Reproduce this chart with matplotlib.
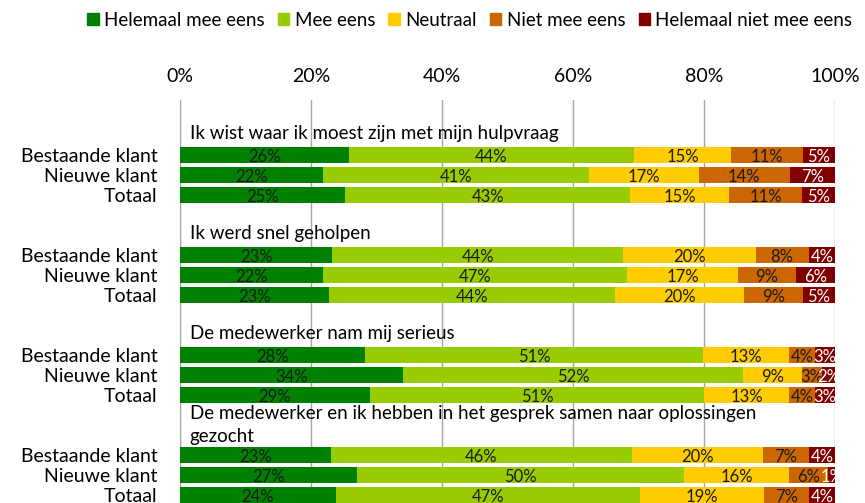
import numpy as np
import matplotlib.pyplot as plt

plt.rcParams['font.family'] = ['Lato', 'DejaVu Sans']

answers = ['Helemaal mee eens', 'Mee eens', 'Neutraal', 'Niet mee eens', 'Helemaal niet mee eens']
colors = ['#008000', '#99CC00', '#FFCC00', '#CC6600', '#800000']
label_colors = ['#1a1a1a', '#1a1a1a', '#1a1a1a', '#1a1a1a', 'white']

questions = ['Ik wist waar ik moest zijn met mijn hulpvraag',
             'Ik werd snel geholpen',
             'De medewerker nam mij serieus',
             'De medewerker en ik hebben in het gesprek samen naar oplossingen\ngezocht']
groups = ['Bestaande klant', 'Nieuwe klant', 'Totaal']

q1 = [[26, 44, 15, 11, 5], [22, 41, 17, 14, 7], [25, 43, 15, 11, 5]]
q2 = [[23, 44, 20, 8, 4], [22, 47, 17, 9, 6], [23, 44, 20, 9, 5]]
q3 = [[28, 51, 13, 4, 3], [34, 52, 9, 3, 2], [29, 51, 13, 4, 3]]
q4 = [[23, 46, 20, 7, 4], [27, 50, 16, 6, 1], [24, 47, 19, 7, 4]]

data = np.array([q1, q2, q3, q4], dtype=float)   # question x group x answer
step = 5

fig = plt.figure(figsize=(8.65, 5.03), dpi=100)
ax = fig.add_axes([180/865, 0.0, 655/865, 403/503])

ypos, ylabels = [], []
for qi in range(len(questions)):
    for gi in range(len(groups)):
        y = qi*step + gi
        row = data[qi, gi]
        widths = row / row.sum() * 100
        left = 0
        for ai in range(len(answers)):
            ax.barh(y, widths[ai], left=left, height=0.8, color=colors[ai], zorder=3)
            ax.text(left + widths[ai]/2, y + 0.1, f'{int(row[ai])}%', ha='center', va='center',
                    fontsize=12, color=label_colors[ai], zorder=4)
            left += widths[ai]
        ypos.append(y)
        ylabels.append(groups[gi])
    if '\n' in questions[qi]:
        ax.text(1.5, qi*step - 1.5, questions[qi], ha='left', va='center', fontsize=13.5,
                linespacing=1.4, zorder=4)
    else:
        ax.text(1.5, qi*step - 1.1, questions[qi], ha='left', va='center', fontsize=13.5, zorder=4)

ax.set_xlim(0, 100)
ax.set_ylim(17.4, -2.75)
ax.set_xticks(np.arange(0, 101, 20))
ax.set_xticklabels([f'{v}%' for v in range(0, 101, 20)])
ax.xaxis.tick_top()
ax.set_yticks(ypos)
ax.set_yticklabels(ylabels)
ax.tick_params(axis='x', length=0, pad=11, labelsize=14)
ax.tick_params(axis='y', length=0, pad=16, labelsize=14)
ax.grid(axis='x', color='#A6A6A6', linewidth=1, zorder=0)
for s in ['top', 'right', 'bottom']:
    ax.spines[s].set_visible(False)
ax.spines['left'].set_color('#A6A6A6')

handles = [plt.Rectangle((0, 0), 1, 1, color=c) for c in colors]
fig.legend(handles, answers, loc='upper right', bbox_to_anchor=(1.005, 1.01), ncol=5, frameon=False,
           fontsize=13.5, handlelength=0.6, handleheight=0.6, handletextpad=0.3, columnspacing=0.7)

fig.savefig('out.png', dpi=100)
